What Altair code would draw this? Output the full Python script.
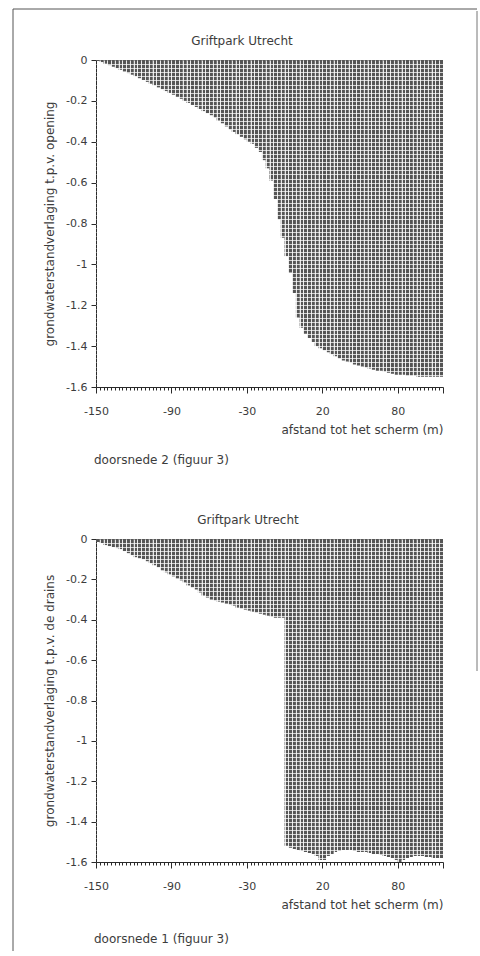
import altair as alt
import pandas as pd

N = 92
x_tick_pos = [0, 20, 40, 60, 80]
x_tick_text = ["-150", "-90", "-30", "20", "80"]
y_ticks = [0, -0.2, -0.4, -0.6, -0.8, -1.0, -1.2, -1.4, -1.6]

# doorsnede 2 (upper panel) - drawdown per bar
values_top = [
    -0.005, -0.01, -0.018, -0.025, -0.033, -0.04, -0.048, -0.056, -0.064, -0.072,
    -0.08, -0.089, -0.098, -0.107, -0.116, -0.125, -0.134, -0.143, -0.152, -0.161,
    -0.17, -0.18, -0.19, -0.20, -0.21, -0.22, -0.23, -0.24, -0.25, -0.26,
    -0.27, -0.283, -0.296, -0.31, -0.325, -0.34, -0.352, -0.364, -0.376, -0.388,
    -0.40, -0.41, -0.43, -0.45, -0.49, -0.53, -0.59, -0.68, -0.78, -0.87,
    -0.96, -1.04, -1.14, -1.26, -1.31, -1.34, -1.36, -1.38, -1.40, -1.41,
    -1.42, -1.43, -1.44, -1.45, -1.46, -1.47, -1.475, -1.48, -1.49, -1.495,
    -1.50, -1.505, -1.51, -1.515, -1.52, -1.52, -1.525, -1.53, -1.535, -1.54,
    -1.54, -1.54, -1.545, -1.545, -1.545, -1.55, -1.55, -1.55, -1.55, -1.55,
    -1.55, -1.55,
]

# doorsnede 1 (lower panel)
values_bottom = [
    -0.015, -0.02, -0.03, -0.035, -0.04, -0.045, -0.05, -0.06, -0.07, -0.08,
    -0.09, -0.095, -0.10, -0.11, -0.12, -0.13, -0.14, -0.155, -0.165, -0.175,
    -0.185, -0.195, -0.205, -0.215, -0.23, -0.24, -0.25, -0.265, -0.28, -0.29,
    -0.30, -0.305, -0.31, -0.315, -0.32, -0.325, -0.33, -0.34, -0.345, -0.35,
    -0.355, -0.36, -0.365, -0.37, -0.375, -0.38, -0.385, -0.39, -0.39, -0.39,
    -1.52, -1.53, -1.535, -1.54, -1.545, -1.55, -1.555, -1.56, -1.57, -1.59,
    -1.59, -1.57, -1.56, -1.55, -1.545, -1.54, -1.54, -1.54, -1.545, -1.55,
    -1.55, -1.55, -1.555, -1.56, -1.56, -1.565, -1.57, -1.575, -1.58, -1.59,
    -1.60, -1.59, -1.58, -1.575, -1.57, -1.57, -1.57, -1.575, -1.575, -1.58,
    -1.58, -1.58,
]

FONT = "DejaVu Sans"
TXT = "#3c3c3c"
INK = "#2a2a2a"
BAR = "#555555"

x_label_expr = " : ".join(
    f"datum.value === {p} ? '{t}'" for p, t in zip(x_tick_pos, x_tick_text)
) + " : ''"
y_label_expr = "datum.value === 0 ? '0' : '-' + format(abs(datum.value), '.1~f')"
rung_values = [round(-0.02 * k, 2) for k in range(1, 80)]


def make_xaxis():
    return alt.Axis(
        values=list(range(0, N + 1)),
        labelExpr=x_label_expr,
        tickSize={"condition": {"test": "datum.value % 20 === 0 || datum.value === 92", "value": 6}, "value": 3},
        tickColor=INK,
        domainColor=INK,
        grid=True,
        gridColor={"condition": {"test": "datum.value === 0 || datum.value === 92", "value": "transparent"}, "value": "white"},
        gridWidth=1.0,
        gridOpacity=0.85,
        zindex=1,
        labelFont=FONT,
        labelFontSize=11,
        labelColor=TXT,
        labelPadding=12,
        labelFlush=False,
        labelOverlap=False,
        title="afstand tot het scherm (m)",
        titleFont=FONT,
        titleFontSize=12,
        titleFontWeight="normal",
        titleColor=TXT,
        titleAnchor="end",
        titlePadding=8,
    )


def panel(values, ytitle, caption, height, title_x, frame=False):
    df = pd.DataFrame({"i": list(range(N)), "v": values})
    base = alt.Chart(df).transform_calculate(i2="datum.i + 1")
    xscale = alt.Scale(domain=[0, N], nice=False, zero=False)
    yscale = alt.Scale(domain=[-1.6, 0], nice=False)

    yaxis = alt.Axis(
        values=y_ticks,
        labelExpr=y_label_expr,
        tickSize=5,
        tickColor=INK,
        domainColor=INK,
        grid=False,
        labelFont=FONT,
        labelFontSize=11,
        labelColor=TXT,
        labelPadding=4,
        title=ytitle,
        titleFont=FONT,
        titleFontSize=12,
        titleFontWeight="normal",
        titleColor=TXT,
        titlePadding=9,
    )
    rung_axis = alt.Axis(
        orient="right",
        values=rung_values,
        grid=True,
        gridColor="white",
        gridWidth=0.9,
        gridOpacity=0.8,
        labels=False,
        ticks=False,
        domain=False,
        title=None,
        zindex=1,
    )

    bars = base.mark_bar(fill=BAR, stroke=None).encode(
        x=alt.X("i:Q", scale=xscale, axis=make_xaxis()),
        x2="i2:Q",
        y=alt.Y("v:Q", scale=yscale, axis=yaxis),
        y2=alt.datum(0),
    )
    rungs = base.mark_bar(opacity=0).encode(
        x=alt.X("i:Q", scale=xscale, axis=make_xaxis()),
        x2="i2:Q",
        y=alt.Y("v:Q", scale=yscale, axis=rung_axis),
        y2=alt.datum(0),
    )
    cap = alt.Chart(pd.DataFrame({"t": [caption]})).mark_text(
        align="left", baseline="middle", font=FONT, fontSize=12, color=TXT
    ).encode(text="t:N", x=alt.value(-2), y=alt.value(400))
    ttl = alt.Chart(pd.DataFrame({"t": ["Griftpark Utrecht"]})).mark_text(
        align="center", baseline="middle", font=FONT, fontSize=12, color=TXT
    ).encode(text="t:N", x=alt.value(title_x), y=alt.value(-19))

    layers = [bars, rungs, cap, ttl]
    if frame:
        one = pd.DataFrame({"a": [0]})
        layers.append(alt.Chart(one).mark_rule(color="#555", strokeWidth=1).encode(
            x=alt.value(-83), y=alt.value(-51), y2=alt.value(891)))
        layers.append(alt.Chart(one).mark_rule(color="#555", strokeWidth=1).encode(
            x=alt.value(-83), x2=alt.value(381), y=alt.value(-51)))
        layers.append(alt.Chart(one).mark_rule(color="#777", strokeWidth=1).encode(
            x=alt.value(381), y=alt.value(-49), y2=alt.value(611)))

    return alt.layer(*layers).resolve_axis(y="independent").properties(
        width=347,
        height=height,
    )


p1 = panel(values_top, "grondwaterstandverlaging t.p.v. opening",
           "doorsnede 2  (figuur 3)", 327, 146, frame=True)
p2 = panel(values_bottom, "grondwaterstandverlaging t.p.v. de drains",
           "doorsnede 1  (figuur 3)", 323, 152)

chart = alt.vconcat(p1, p2, spacing=152, bounds="flush").properties(
    padding={"left": 12, "top": 8, "right": 0, "bottom": 0},
    background="white",
).configure_view(strokeWidth=0)

chart.save("out.html", embed_options={"renderer": "svg", "actions": False})
